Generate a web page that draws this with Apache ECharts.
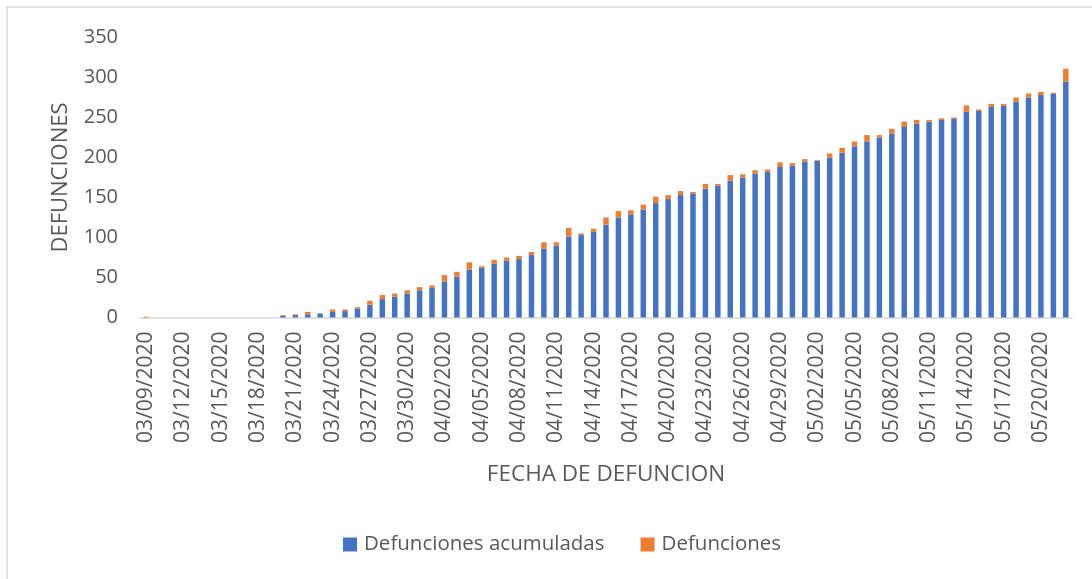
<!DOCTYPE html>
<html>
<head>
<meta charset="utf-8">
<script src="https://cdn.jsdelivr.net/npm/echarts@6/dist/echarts.min.js"></script>
<style>
  html, body { margin: 0; padding: 0; background: #fff; }
  #chart { width: 1092px; height: 579px; }
</style>
</head>
<body>
<div id="chart"></div>
<script>
// 03/09/2020 .. 05/22/2020, one bar per day
let startDay = new Date(2020, 2, 9);
let fechas = [];
for (let i = 0; i < 75; i++) {
    let d = new Date(startDay.getTime() + i * 86400000);
    let mm = String(d.getMonth() + 1).padStart(2, '0');
    let dd = String(d.getDate()).padStart(2, '0');
    fechas.push(mm + '/' + dd + '/' + d.getFullYear());
}

let acumuladas = [
    0, 0, 0, 0, 0, 0, 0, 0, 0, 0,
    0, 2, 3, 4, 5, 7, 8, 11, 16, 23,
    26, 30, 34, 37, 45, 51, 60, 62, 67, 71,
    73, 78, 86, 90, 101, 103, 107, 116, 125, 129,
    135, 143, 148, 153, 155, 161, 165, 171, 175, 180,
    182, 188, 190, 195, 196, 200, 206, 214, 220, 225,
    230, 238, 242, 245, 247, 248, 257, 258, 263, 265,
    270, 275, 278, 280, 295
];

let defunciones = [
    1, 0, 0, 0, 0, 0, 0, 0, 0, 0,
    0, 1, 1, 3, 0, 3, 2, 2, 5, 5,
    4, 4, 4, 3, 8, 6, 9, 2, 5, 4,
    4, 4, 8, 4, 11, 2, 4, 9, 8, 5,
    6, 8, 5, 5, 2, 6, 2, 7, 4, 4,
    3, 6, 3, 3, 1, 5, 6, 6, 8, 3,
    6, 7, 5, 2, 2, 2, 8, 2, 4, 2,
    5, 5, 4, 1, 16
];

let yTicks = [0, 50, 100, 150, 200, 250, 300, 350];

let colors = ['#4472c4', '#ed7d31', '#595959', '#d9d9d9'];
let fontFamily = '"Open Sans", "Noto Sans", sans-serif';

let myChart = echarts.init(document.getElementById('chart'));
let option = {
    animation: false,
    backgroundColor: '#fff',
    color: [colors[0], colors[1]],
    textStyle: {
        fontFamily: fontFamily,
        color: colors[2]
    },
    graphic: [{
        type: 'rect',
        shape: { x: 7, y: 7, width: 1100, height: 600 },
        style: { fill: 'none', stroke: colors[3], lineWidth: 1.5 },
        silent: true
    }],
    grid: {
        left: 140,
        right: 20,
        top: 37.5,
        bottom: 261.5
    },
    legend: {
        bottom: 19,
        left: 338,
        itemWidth: 14,
        itemHeight: 14,
        itemGap: 36,
        icon: 'rect',
        textStyle: {
            fontSize: 20.5,
            color: colors[2],
            fontFamily: fontFamily,
            padding: [0, 0, 0, 2]
        },
        data: ['Defunciones acumuladas', 'Defunciones']
    },
    xAxis: {
        type: 'category',
        data: fechas,
        name: 'FECHA DE DEFUNCION',
        nameLocation: 'middle',
        nameGap: 146,
        nameTextStyle: {
            fontSize: 22.5,
            color: colors[2]
        },
        axisTick: { show: false },
        axisLine: {
            lineStyle: { color: colors[3], width: 1.5 }
        },
        axisLabel: {
            interval: 2,
            rotate: 90,
            margin: 14,
            fontSize: 21,
            color: colors[2]
        }
    },
    yAxis: {
        type: 'value',
        min: yTicks[0],
        max: yTicks[yTicks.length - 1],
        interval: 50,
        name: 'DEFUNCIONES',
        nameLocation: 'middle',
        nameGap: 68,
        nameTextStyle: {
            fontSize: 22,
            color: colors[2]
        },
        axisLine: { show: false },
        axisTick: { show: false },
        splitLine: { show: false },
        axisLabel: {
            margin: 22,
            fontSize: 20,
            color: colors[2]
        }
    },
    series: [{
        name: 'Defunciones acumuladas',
        type: 'bar',
        stack: 'total',
        data: acumuladas,
        barWidth: '44%',
        itemStyle: { color: colors[0] }
    }, {
        name: 'Defunciones',
        type: 'bar',
        stack: 'total',
        data: defunciones,
        barWidth: '44%',
        itemStyle: { color: colors[1] }
    }]
};
myChart.setOption(option);
</script>
</body>
</html>
